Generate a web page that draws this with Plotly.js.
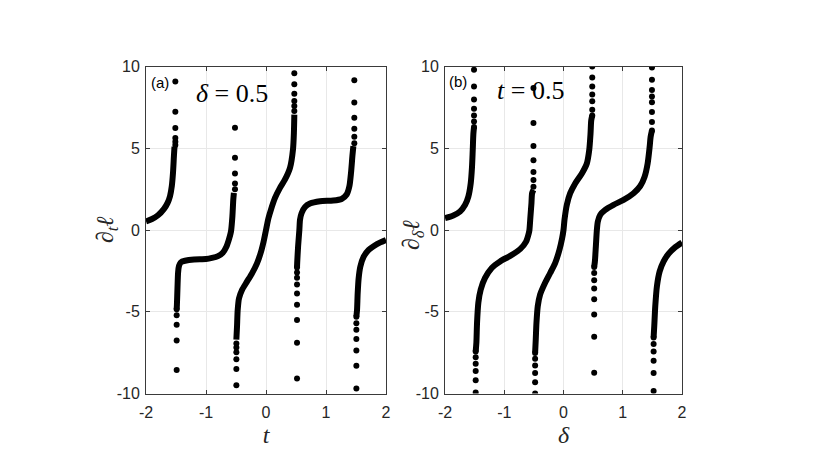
<!DOCTYPE html>
<html>
<head>
<meta charset="utf-8">
<script src="https://cdn.plot.ly/plotly-3.0.1.min.js"></script>
<style>html,body{margin:0;padding:0;background:#fff;}#chart{width:830px;height:453px;}</style>
</head>
<body>
<div id="chart"></div>
<script>
// Panel (a): d_t l versus t at delta = 0.5 (dense branches, null separates branches)
const aCurveT = [
  -2.0, -1.9, -1.8, -1.7, -1.64, -1.6, -1.57, -1.55, -1.535, -1.525, null,
  -1.489, -1.485, -1.475, -1.465, -1.45, -1.42, -1.35, -1.2, -1.0, -0.9, -0.8, -0.72, -0.66, -0.62, -0.59, -0.58, -0.56, -0.545, -0.535, null,
  -0.494, -0.483, -0.472, -0.45, -0.4, -0.317, -0.233, -0.15, -0.083, -0.04, 0.0, 0.04, 0.083, 0.15, 0.233, 0.317, 0.4, 0.45, 0.465, 0.472, null,
  0.517, 0.52, 0.535, 0.556, 0.567, 0.594, 0.65, 0.733, 0.9, 1.12, 1.26, 1.344, 1.39, 1.417, 1.44, 1.456, null,
  1.506, 1.517, 1.528, 1.544, 1.572, 1.628, 1.711, 1.806, 1.906, 2.0
];
const aCurveY = [
  0.53, 0.67, 0.9, 1.29, 1.66, 2.07, 2.68, 3.5, 4.5, 5.1, null,
  -4.85, -4.6, -3.5, -2.6, -2.2, -1.98, -1.88, -1.8, -1.78, -1.71, -1.6, -1.39, -1.02, -0.6, -0.2, 0.0, 0.84, 1.86, 2.27, null,
  -6.7, -5.9, -4.9, -4.18, -3.67, -3.16, -2.65, -2.04, -1.33, -0.71, 0.0, 0.71, 1.25, 1.96, 2.58, 3.09, 3.8, 4.93, 5.95, 7.06, null,
  -2.3, -2.0, -1.0, 0.0, 0.63, 1.04, 1.41, 1.62, 1.76, 1.8, 1.9, 2.17, 2.68, 3.5, 4.52, 5.13, null,
  -5.3, -4.9, -3.88, -2.96, -2.24, -1.63, -1.22, -0.96, -0.76, -0.61
];
// Panel (a): isolated points near the poles
const aDotT = [
  -1.511, -1.511, -1.511, -1.511, -1.511, -1.511,
  -1.489, -1.489, -1.489, -1.489, -1.489,
  -0.517, -0.517, -0.517, -0.517, -0.517,
  -0.494, -0.494, -0.494, -0.494, -0.494, -0.494,
  0.472, 0.472, 0.472, 0.472, 0.472, 0.472,
  0.517, 0.517, 0.517, 0.517, 0.517, 0.517, 0.517, 0.517, 0.517,
  1.472, 1.472, 1.472, 1.472, 1.472, 1.472,
  1.506, 1.506, 1.506, 1.506, 1.506, 1.506, 1.506
];
const aDotY = [
  5.2, 5.4, 5.62, 6.24, 7.24, 9.08,
  -8.57, -6.76, -5.8, -5.22, -4.85,
  2.5, 2.84, 3.46, 4.42, 6.26,
  -9.5, -8.5, -7.9, -7.47, -7.18, -6.94,
  7.28, 7.59, 7.89, 8.34, 8.92, 9.59,
  -9.08, -6.9, -5.51, -4.57, -3.88, -3.33, -2.92, -2.6, -2.3,
  5.3, 5.7, 6.2, 6.87, 7.8, 9.16,
  -9.7, -8.3, -7.37, -6.67, -6.1, -5.7, -5.3
];

// Panel (b): d_delta l versus delta at t = 0.5
const bCurveD = [
  -2.0, -1.86, -1.746, -1.66, -1.606, -1.566, -1.544, -1.532, -1.521, -1.51, null,
  -1.482, -1.47, -1.459, -1.437, -1.397, -1.324, -1.211, -1.07, -0.9, -0.732, -0.631, -0.586, -0.575, -0.558, -0.541, -0.53, -0.507, null,
  -0.479, -0.468, -0.456, -0.434, -0.394, -0.31, -0.225, -0.141, -0.068, -0.023, 0.0, 0.017, 0.056, 0.113, 0.197, 0.31, 0.394, 0.434, 0.456, 0.468, 0.485, null,
  0.518, 0.53, 0.546, 0.563, 0.58, 0.62, 0.704, 0.845, 1.014, 1.183, 1.296, 1.369, 1.42, 1.454, 1.47, 1.493, null,
  1.521, 1.532, 1.549, 1.577, 1.623, 1.69, 1.775, 1.887, 2.0
];
const bCurveY = [
  0.73, 0.89, 1.13, 1.54, 2.04, 2.85, 3.87, 4.88, 5.89, 6.3, null,
  -7.43, -6.87, -5.66, -4.44, -3.64, -2.93, -2.32, -1.92, -1.58, -1.17, -0.71, -0.2, 0.0, 0.83, 1.64, 2.25, 2.45, null,
  -7.52, -6.67, -5.66, -4.65, -3.94, -3.23, -2.63, -2.02, -1.21, -0.5, 0.0, 0.63, 1.54, 2.25, 2.85, 3.46, 4.07, 4.88, 5.89, 6.7, 7.0, null,
  -2.26, -1.92, -1.01, 0.0, 0.53, 0.93, 1.23, 1.54, 1.84, 2.25, 2.69, 3.26, 4.07, 5.08, 5.69, 6.09, null,
  -6.57, -5.86, -4.65, -3.43, -2.53, -1.92, -1.45, -1.05, -0.77
];
const bDotD = [
  -1.51, -1.51, -1.51, -1.51, -1.51, -1.51, -1.51,
  -1.482, -1.482, -1.482, -1.482, -1.482, -1.482,
  -0.507, -0.507, -0.507, -0.507, -0.507, -0.507, -0.507,
  -0.479, -0.479, -0.479, -0.479, -0.479, -0.479,
  0.485, 0.485, 0.485, 0.485, 0.485, 0.485, 0.485,
  0.518, 0.518, 0.518, 0.518, 0.518, 0.518, 0.518, 0.518,
  1.493, 1.493, 1.493, 1.493, 1.493, 1.493, 1.493, 1.493,
  1.521, 1.521, 1.521, 1.521, 1.521, 1.521
];
const bDotY = [
  6.3, 6.64, 7.0, 7.41, 7.98, 8.77, 9.8,
  -9.94, -9.19, -8.63, -8.18, -7.78, -7.43,
  2.65, 3.06, 3.54, 4.27, 5.14, 6.54, 8.68,
  -10.0, -9.31, -8.75, -8.28, -7.88, -7.52,
  7.0, 7.35, 7.87, 8.28, 8.77, 9.33, 10.0,
  -8.73, -6.53, -5.17, -4.24, -3.58, -3.07, -2.63, -2.26,
  6.09, 6.6, 7.21, 7.81, 8.16, 8.56, 9.19, 9.94,
  -9.84, -8.75, -8.0, -7.43, -6.97, -6.57
];

const xTicks = [-2, -1, 0, 1, 2];
const yTicks = [-10, -5, 0, 5, 10];

const W = 830, H = 453;
const ink = '#000000';
const curveStyle = {color: ink, width: 6, shape: 'spline', smoothing: 0.7};
const dotStyle = {color: ink, size: 6};

const traces = [
  {x: aCurveT, y: aCurveY, xaxis: 'x', yaxis: 'y', mode: 'lines', line: curveStyle, connectgaps: false},
  {x: aDotT, y: aDotY, xaxis: 'x', yaxis: 'y', mode: 'markers', marker: dotStyle},
  {x: bCurveD, y: bCurveY, xaxis: 'x2', yaxis: 'y2', mode: 'lines', line: curveStyle, connectgaps: false},
  {x: bDotD, y: bDotY, xaxis: 'x2', yaxis: 'y2', mode: 'markers', marker: dotStyle}
];

const tickFont = {family: 'Liberation Sans, Arial, sans-serif', size: 16, color: '#262626'};
const titleFont = {family: 'Liberation Serif, Times New Roman, serif', size: 24, color: '#262626'};

function xAxis(domain, anchor, title) {
  return {
    domain: domain, anchor: anchor, range: [-2, 2], tickvals: xTicks, ticktext: xTicks.map(String),
    showgrid: true, gridcolor: '#e8e8e8', gridwidth: 1, zeroline: false,
    showline: true, linecolor: '#3a3a3a', linewidth: 1, mirror: 'ticks',
    ticks: 'inside', ticklen: 4, tickcolor: '#3a3a3a', tickfont: tickFont, ticklabelstandoff: 4,
    title: {text: title, font: titleFont, standoff: 6}
  };
}
function yAxis(domain, anchor) {
  return {
    domain: domain, anchor: anchor, range: [-10, 10], tickvals: yTicks, ticktext: yTicks.map(String),
    showgrid: true, gridcolor: '#e8e8e8', gridwidth: 1, zeroline: false,
    showline: true, linecolor: '#3a3a3a', linewidth: 1, mirror: 'ticks',
    ticks: 'inside', ticklen: 4, tickcolor: '#3a3a3a', tickfont: tickFont, ticklabelstandoff: 2
  };
}

const yDom = [1 - 393.5 / H, 1 - 66.5 / H];
const layout = {
  width: W, height: H,
  margin: {l: 0, r: 0, t: 0, b: 0},
  paper_bgcolor: '#ffffff', plot_bgcolor: '#ffffff',
  showlegend: false,
  xaxis: xAxis([146 / W, 386 / W], 'y', '<i>t</i>'),
  yaxis: yAxis(yDom, 'x'),
  xaxis2: xAxis([445 / W, 682 / W], 'y2', '<i>δ</i>'),
  yaxis2: yAxis(yDom, 'x2'),
  annotations: [
    // y-axis titles, rotated
    {xref: 'paper', yref: 'paper', x: 107 / W, y: 1 - 230 / H, xanchor: 'center', yanchor: 'middle', textangle: -90, text: '∂<sub><i>t</i></sub><i>ℓ</i>', showarrow: false, font: titleFont},
    {xref: 'paper', yref: 'paper', x: 413 / W, y: 1 - 235 / H, xanchor: 'center', yanchor: 'middle', textangle: -90, text: '∂<sub><i>δ</i></sub><i>ℓ</i>', showarrow: false, font: titleFont},
    // panel labels and parameter labels
    {xref: 'paper', yref: 'paper', x: 149 / W, y: 1 - 82 / H, xanchor: 'left', yanchor: 'middle', text: '(a)', showarrow: false, font: {family: 'Liberation Sans, Arial, sans-serif', size: 15, color: '#000'}},
    {xref: 'paper', yref: 'paper', x: 194 / W, y: 1 - 94 / H, xanchor: 'left', yanchor: 'middle', text: '<i>δ</i> = 0.5', showarrow: false, font: {family: 'Liberation Serif, Times New Roman, serif', size: 26, color: '#000'}},
    {xref: 'paper', yref: 'paper', x: 447 / W, y: 1 - 81 / H, xanchor: 'left', yanchor: 'middle', text: '(b)', showarrow: false, font: {family: 'Liberation Sans, Arial, sans-serif', size: 15, color: '#000'}},
    {xref: 'paper', yref: 'paper', x: 495 / W, y: 1 - 90 / H, xanchor: 'left', yanchor: 'middle', text: '<i>t</i> = 0.5', showarrow: false, font: {family: 'Liberation Serif, Times New Roman, serif', size: 26, color: '#000'}}
  ]
};

Plotly.newPlot('chart', traces, layout, {displayModeBar: false, staticPlot: true});
</script>
</body>
</html>
